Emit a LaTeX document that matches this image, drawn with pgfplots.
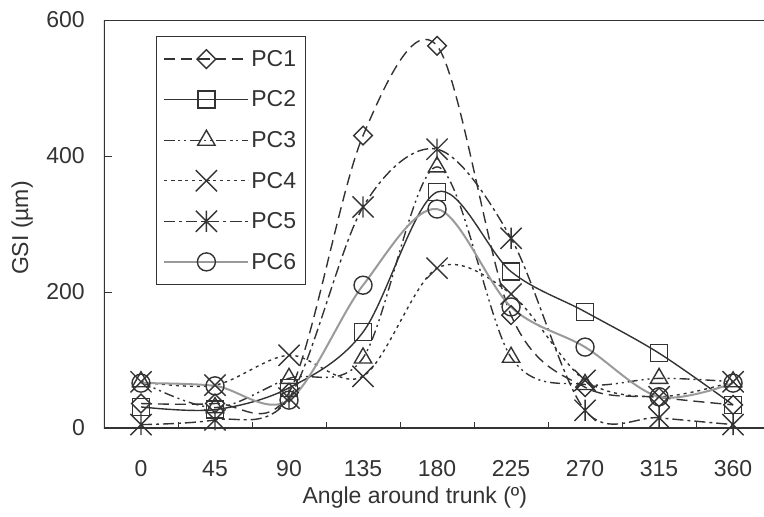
\documentclass[border=0pt]{standalone}
\usepackage{pgfplots}
\pgfplotsset{compat=1.18}
\usepackage{fontspec}
\setmainfont{Liberation Sans}
\definecolor{dk}{HTML}{333333}
\definecolor{gr}{HTML}{9A9A9A}
\pgfdeclareplotmark{xstar}{%
  \pgfpathmoveto{\pgfqpoint{-.7071\pgfplotmarksize}{-.7071\pgfplotmarksize}}%
  \pgfpathlineto{\pgfqpoint{.7071\pgfplotmarksize}{.7071\pgfplotmarksize}}%
  \pgfpathmoveto{\pgfqpoint{-.7071\pgfplotmarksize}{.7071\pgfplotmarksize}}%
  \pgfpathlineto{\pgfqpoint{.7071\pgfplotmarksize}{-.7071\pgfplotmarksize}}%
  \pgfpathmoveto{\pgfqpoint{0pt}{-.7071\pgfplotmarksize}}%
  \pgfpathlineto{\pgfqpoint{0pt}{.7071\pgfplotmarksize}}%
  \pgfusepathqstroke}
\pgfplotstableread{
x   pa  pb  pc  pd  pe  pf
0   36  31  68  68  5   66
45  36  27  30  63  12  62
90  52  59  73  107 44  41
135 430 141 103 76  325 210
180 562 347 384 235 410 322
225 166 230 104 197 279 178
270 60  171 64  70  26  119
315 45  110 73  46  15  46
360 34  34  68  68  5   66
}\gsi
\begin{document}
\begin{tikzpicture}
\useasboundingbox (-104pt,-89pt) rectangle (660pt,428pt);
\begin{axis}[
  scale only axis, width=660pt, height=408pt,
  xmin=-22.5, xmax=378.8, ymin=0, ymax=600,
  xtick={0,45,...,360},
  minor xtick={22.5,67.5,...,337.5},
  major x tick style={draw=none},
  minor tick length=6pt, major tick length=8pt,
  tick align=inside,
  xtick pos=bottom, ytick pos=left,
  ytick={0,200,400,600},
  tick style={dk, line width=0.9pt},
  axis line style={draw=none},
  /pgf/number format/assume math mode=true,
  tick label style={font=\fontsize{23}{27}\selectfont, text=dk},
  xticklabel style={anchor=base, yshift=-48pt},
  yticklabel style={anchor=east, inner sep=0pt, xshift=-19pt},
  xlabel={Angle around trunk (º)},
  ylabel={GSI (µm)},
  label style={font=\fontsize{23}{27}\selectfont, text=dk},
  xlabel style={at={(axis description cs:0.471,0)}, anchor=base, yshift=-75pt},
  ylabel style={at={(axis description cs:-0.124,0.49)}, anchor=center},
  legend cell align=left,
  legend style={draw=dk, line width=0.8pt, font=\fontsize{23}{27}\selectfont, text=dk,
    at={(axis description cs:0.0788,0.961)}, anchor=north west,
    row sep=19pt, inner xsep=7pt, inner ysep=12pt},
  legend image code/.code={\draw[mark repeat=2,mark phase=2,#1] plot coordinates {(0pt,0pt) (42pt,0pt) (84pt,0pt)};},
  every axis plot/.append style={smooth, tension=0.55, line width=1.4pt},
]
\draw[dk, line width=1.3pt] (rel axis cs:1,1) -- (rel axis cs:0,1) -- (rel axis cs:0,0) -- (rel axis cs:1,0);
\addplot[dk, dash pattern=on 11pt off 6pt, mark=square, mark size=6.6pt, mark options={solid, rotate=45}] table[x=x,y=pa] {\gsi};
\addlegendentry{PC1}
\addplot[dk, mark=square, mark size=8.5pt, mark options={solid}] table[x=x,y=pb] {\gsi};
\addlegendentry{PC2}
\addplot[dk, dash pattern=on 10pt off 4pt on 2pt off 4pt on 2pt off 4pt, mark=triangle, mark size=10pt, mark options={solid}] table[x=x,y=pc] {\gsi};
\addlegendentry{PC3}
\addplot[dk, dash pattern=on 3pt off 4pt, mark=x, mark size=15pt, mark options={solid}] table[x=x,y=pd] {\gsi};
\addlegendentry{PC4}
\addplot[dk, dash pattern=on 11pt off 4pt on 3pt off 4pt, mark=xstar, mark size=15pt, mark options={solid}] table[x=x,y=pe] {\gsi};
\addlegendentry{PC5}
\addplot[gr, line width=2pt, mark=o, mark size=9pt, mark options={solid, dk, line width=1.4pt}] table[x=x,y=pf] {\gsi};
\addlegendentry{PC6}
\end{axis}
\end{tikzpicture}
\end{document}
